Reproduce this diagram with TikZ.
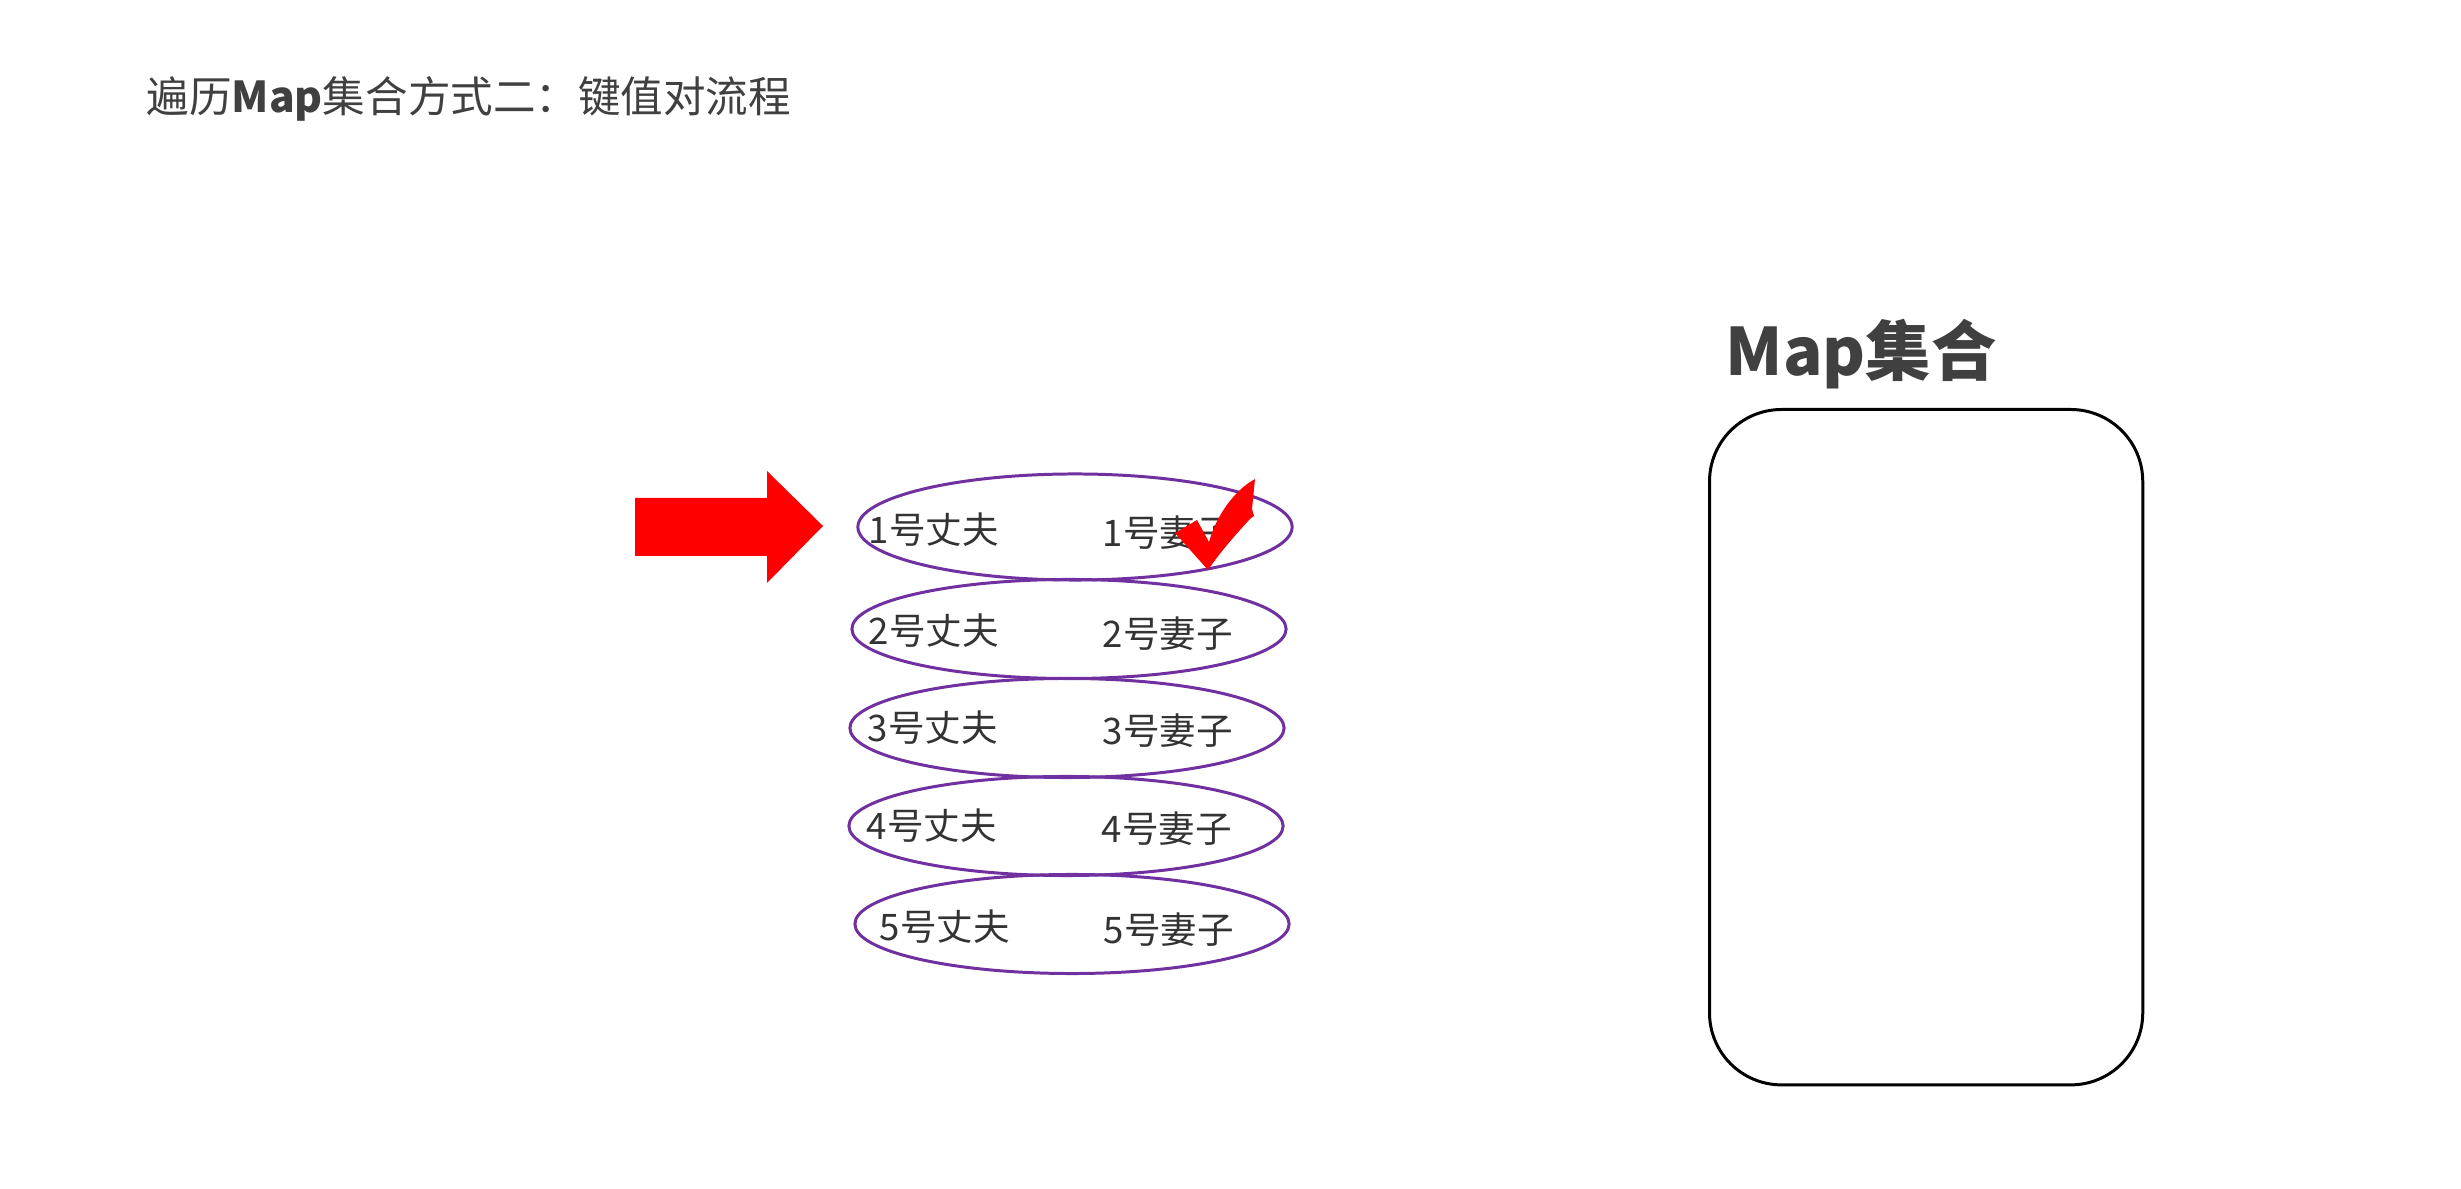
\documentclass[tikz,border=0pt]{standalone}
\usepackage{fontspec}
\setmainfont{Noto Sans CJK SC}
\usetikzlibrary{shapes.geometric}
\definecolor{txt}{HTML}{333333}
\definecolor{ttl}{HTML}{404040}
\definecolor{pur}{HTML}{7030A0}
\definecolor{chk}{HTML}{FF0000}
\begin{document}
\begin{tikzpicture}[x=0.01cm,y=-0.01cm,
  pair/.style={draw=pur, line width=0.85pt, ellipse, minimum width=4.34cm, minimum height=0.99cm, inner sep=0pt},
  lbl/.style={anchor=west, inner sep=0pt, text=txt, font=\fontsize{10.4}{12}\selectfont},
  mapbox/.style={draw=black, line width=0.85pt, rounded corners=0.72cm, inner sep=0pt}
]
\useasboundingbox (0,0) rectangle (2461,1189);
\fill[white] (0,0) rectangle (2461,1189);

% title
\node[anchor=west, inner sep=0pt, text=ttl, font=\fontsize{12.1}{14}\selectfont] (title) at (146,99) {遍历\textbf{Map}集合方式二：键值对流程};

% heading and map box
\node[anchor=west, inner sep=0pt, text=ttl, font=\bfseries\fontsize{18.6}{22}\selectfont] (head) at (1725,354) {Map集合};
\node[mapbox, minimum width=4.33cm, minimum height=6.75cm, anchor=north west] (map) at (1708,408) {};

% ellipses
\node[pair, minimum height=1.06cm] (e1) at (1075,527) {};
\node[pair] (e2) at (1069,629) {};
\node[pair] (e3) at (1067,728) {};
\node[pair] (e4) at (1066,826) {};
\node[pair] (e5) at (1072,924) {};

% labels
\node[lbl] (h1) at (868,530) {1号丈夫};
\node[lbl] (w1) at (1102,533) {1号妻子};
\node[lbl] (h2) at (868,631) {2号丈夫};
\node[lbl] (w2) at (1102,634) {2号妻子};
\node[lbl] (h3) at (867,728) {3号丈夫};
\node[lbl] (w3) at (1102,731) {3号妻子};
\node[lbl] (h4) at (866,826) {4号丈夫};
\node[lbl] (w4) at (1101,829) {4号妻子};
\node[lbl] (h5) at (879,927) {5号丈夫};
\node[lbl] (w5) at (1103,930) {5号妻子};

% red arrow
\fill[chk] (635,498) -- (767,498) -- (767,471) -- (823,526) -- (767,583) -- (767,556) -- (635,556) -- cycle;

% check mark
\fill[chk] (1175,533) -- (1197,520) -- (1209,542)
  .. controls (1216,517) and (1232,494) .. (1250,482)
  -- (1255,479)
  -- (1252,509) -- (1254,516) -- (1250,519)
  .. controls (1237,533) and (1221,551) .. (1208,570) -- cycle;
\end{tikzpicture}
\end{document}
